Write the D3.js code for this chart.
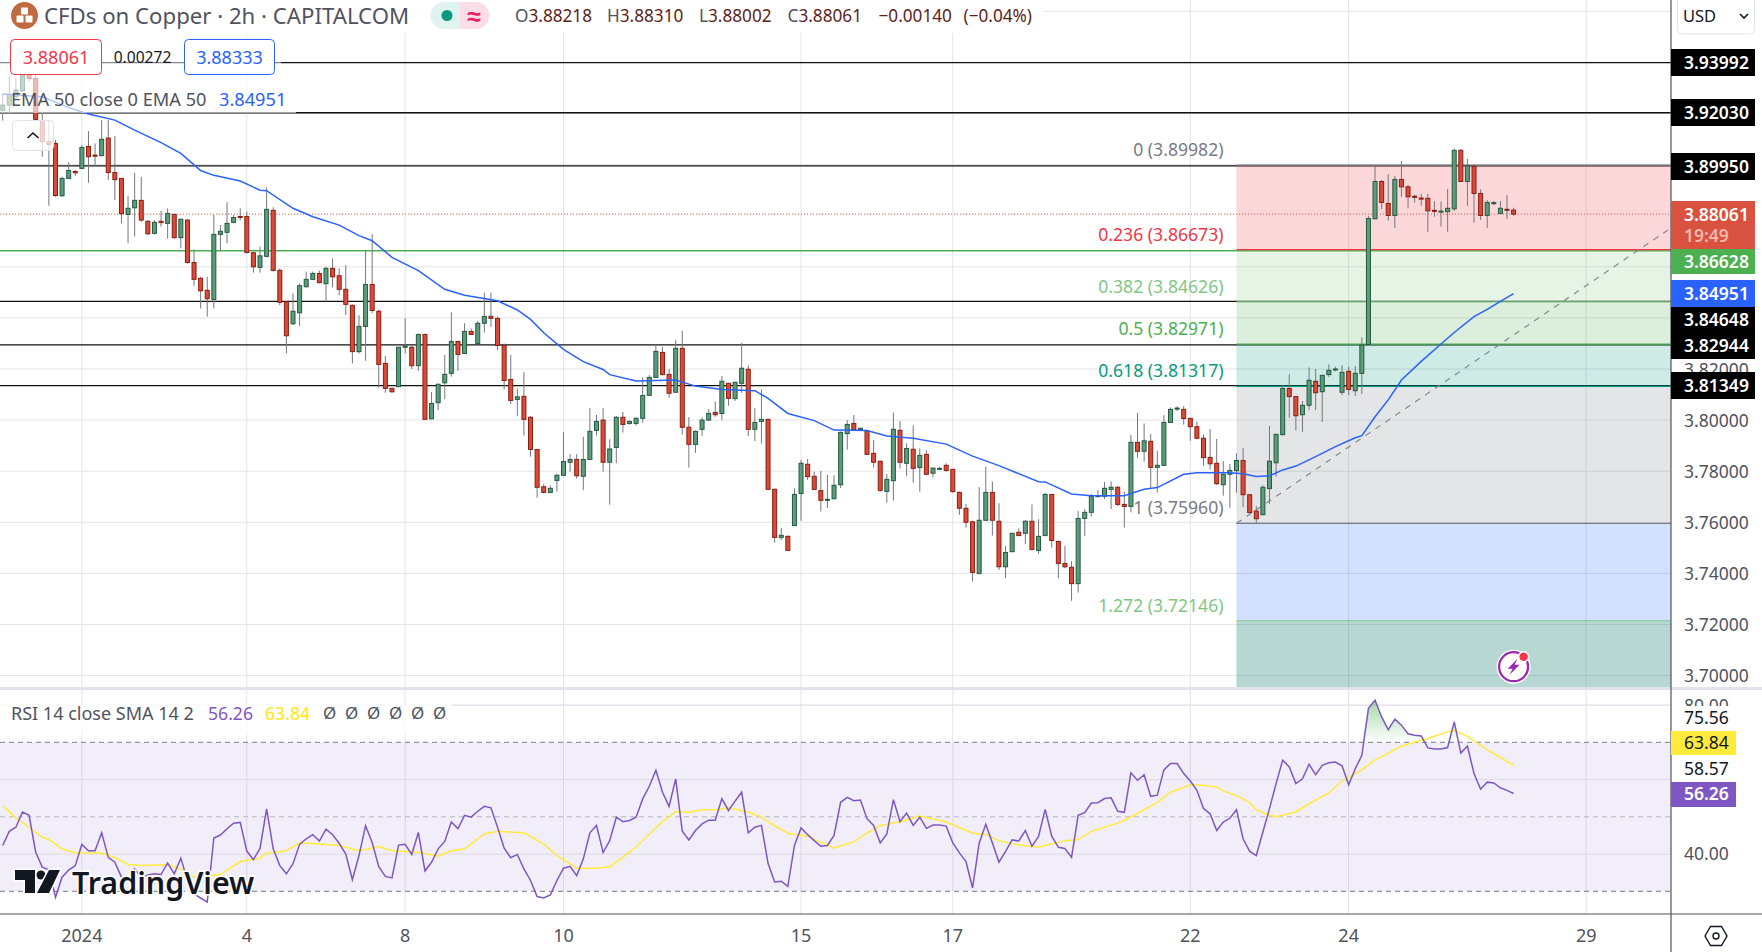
<!DOCTYPE html>
<html lang="en">
<head>
<meta charset="UTF-8">
<title>CFDs on Copper</title>
<script src="https://d3js.org/d3.v7.min.js"></script>
<style>
    html, body { margin: 0; padding: 0; background: #fff; overflow: hidden; }
    svg { display: block; }
    text { font-family: "Noto Sans", sans-serif; }
</style>
</head>
<body>
<svg id="chart" width="1762" height="952"></svg>
<script>
// candles, one per 2h bar
const opens = [
3.9213,3.9233,3.9266,3.9289,3.9364,3.9337,3.9172,3.9090,3.9083,3.8878,
3.8946,3.8973,3.8985,3.9071,3.9037,3.9035,3.9104,3.8969,3.8946,3.8805,
3.8831,3.8860,3.8778,3.8731,3.8778,3.8770,3.8805,3.8714,3.8783,3.8617,
3.8555,3.8508,3.8472,3.8727,3.8735,3.8774,3.8797,3.8797,3.8655,3.8598,
3.8641,3.8821,3.8586,3.8463,3.8377,3.8420,3.8522,3.8551,3.8574,3.8534,
3.8594,3.8565,3.8512,3.8449,3.8268,3.8367,3.8531,3.8426,3.8222,3.8124,
3.8131,3.8285,3.8285,3.8213,3.8335,3.8005,3.8068,3.8146,3.8183,3.8308,
3.8261,3.8347,3.8300,3.8379,3.8406,3.8398,3.8292,3.8159,3.8081,3.8093,
3.8011,3.7885,3.7739,3.7717,3.7764,3.7784,3.7835,3.7846,3.7780,3.7846,
3.7960,3.8000,3.7835,3.7893,3.8011,3.7987,3.7987,3.8007,3.8097,3.8167,
3.8265,3.8179,3.8109,3.8281,3.7972,3.7905,3.7964,3.8000,3.8030,3.8026,
3.8144,3.8084,3.8144,3.8199,3.7964,3.7995,3.8003,3.7729,3.7541,3.7545,
3.7587,3.7713,3.7827,3.7780,3.7724,3.7686,3.7692,3.7747,3.7947,3.7987,
3.7963,3.7957,3.7870,3.7839,3.7721,3.7763,3.7960,3.7831,3.7886,3.7814,
3.7866,3.7792,3.7810,3.7823,3.7807,3.7717,3.7655,3.7602,3.7400,3.7608,
3.7717,3.7604,3.7426,3.7485,3.7561,3.7557,3.7604,3.7490,3.7548,3.7709,
3.7525,3.7439,3.7424,3.7360,3.7615,3.7639,3.7702,3.7702,3.7729,3.7737,
3.7670,3.7662,3.7913,3.7878,3.7917,3.7815,3.7823,3.7991,3.8045,3.8042,
3.8007,3.7974,3.7929,3.7854,3.7831,3.7747,3.7788,3.7802,3.7842,3.7708,
3.7644,3.7630,3.7732,3.7833,3.7943,3.8124,3.8092,3.8021,3.8058,3.8152,
3.8111,3.8178,3.8199,3.8109,3.8191,3.8115,3.8183,3.8296,3.8788,3.8934,
3.8848,3.8801,3.8942,3.8913,3.8876,3.8869,3.8868,3.8821,3.8816,3.8816,
3.8827,3.9056,3.8934,3.8993,3.8887,3.8801,3.8848,3.8809,3.8825,3.88218];

const highs = [
3.9279,3.9347,3.9337,3.9390,3.9390,3.9357,3.9207,3.9174,3.9096,3.8953,
3.9009,3.8979,3.9077,3.9131,3.9083,3.9174,3.9174,3.9112,3.8946,3.8877,
3.8967,3.8951,3.8783,3.8783,3.8819,3.8829,3.8809,3.8789,3.8786,3.8668,
3.8561,3.8561,3.8803,3.8763,3.8853,3.8803,3.8829,3.8816,3.8659,3.8679,
3.8911,3.8833,3.8594,3.8463,3.8496,3.8535,3.8581,3.8581,3.8585,3.8600,
3.8633,3.8594,3.8606,3.8453,3.8411,3.8666,3.8727,3.8433,3.8251,3.8127,
3.8287,3.8398,3.8294,3.8339,3.8339,3.8110,3.8144,3.8255,3.8422,3.8308,
3.8379,3.8359,3.8388,3.8499,3.8499,3.8405,3.8300,3.8255,3.8124,3.8188,
3.8016,3.7885,3.7750,3.7744,3.7791,3.7953,3.7867,3.7867,3.7935,3.8047,
3.8020,3.8047,3.7925,3.8016,3.8032,3.7998,3.8011,3.8167,3.8176,3.8290,
3.8287,3.8199,3.8313,3.8349,3.8012,3.7959,3.8011,3.8043,3.8073,3.8173,
3.8146,3.8150,3.8302,3.8214,3.8047,3.8120,3.8006,3.7733,3.7578,3.7549,
3.7733,3.7844,3.7848,3.7798,3.7801,3.7785,3.7784,3.7955,3.8000,3.8020,
3.7968,3.7961,3.7922,3.7841,3.7789,3.8030,3.7996,3.7909,3.7979,3.7889,
3.7883,3.7815,3.7818,3.7831,3.7810,3.7721,3.7672,3.7606,3.7738,3.7818,
3.7760,3.7675,3.7507,3.7559,3.7576,3.7609,3.7670,3.7612,3.7716,3.7709,
3.7528,3.7507,3.7448,3.7645,3.7651,3.7711,3.7726,3.7758,3.7760,3.7742,
3.7720,3.7942,3.8028,3.7987,3.7946,3.7880,3.8019,3.8050,3.8054,3.8055,
3.8009,3.7994,3.7944,3.7965,3.7926,3.7840,3.7828,3.7870,3.7891,3.7709,
3.7664,3.7745,3.7977,3.7948,3.8137,3.8180,3.8094,3.8075,3.8206,3.8200,
3.8178,3.8218,3.8209,3.8214,3.8209,3.8212,3.8323,3.8799,3.8994,3.8940,
3.8963,3.8955,3.9014,3.8920,3.8882,3.8885,3.8886,3.8857,3.8855,3.8904,
3.9063,3.9060,3.9022,3.9002,3.8904,3.8861,3.8857,3.8857,3.8881,3.88310];

const lows = [
3.9172,3.9200,3.9253,3.9285,3.9324,3.9174,3.9031,3.8839,3.8874,3.8874,
3.8943,3.8956,3.8983,3.8929,3.8992,3.9033,3.8940,3.8861,3.8770,3.8692,
3.8718,3.8776,3.8724,3.8727,3.8757,3.8710,3.8710,3.8672,3.8613,3.8526,
3.8437,3.8405,3.8437,3.8663,3.8692,3.8770,3.8783,3.8652,3.8577,3.8577,
3.8637,3.8581,3.8450,3.8261,3.8372,3.8369,3.8519,3.8548,3.8535,3.8463,
3.8519,3.8489,3.8411,3.8222,3.8261,3.8232,3.8418,3.8127,3.8107,3.8107,
3.8128,3.8261,3.8200,3.8193,3.8003,3.8003,3.8039,3.8082,3.8170,3.8193,
3.8259,3.8333,3.8298,3.8342,3.8365,3.8274,3.8120,3.8063,3.8017,3.7939,
3.7857,3.7696,3.7713,3.7714,3.7720,3.7781,3.7798,3.7771,3.7726,3.7844,
3.7939,3.7798,3.7669,3.7831,3.7951,3.7982,3.7978,3.7990,3.8094,3.8165,
3.8175,3.8088,3.8106,3.7943,3.7814,3.7872,3.7938,3.7998,3.8013,3.8000,
3.8056,3.8075,3.8107,3.7938,3.7918,3.7908,3.7726,3.7520,3.7531,3.7489,
3.7585,3.7606,3.7766,3.7726,3.7642,3.7656,3.7691,3.7734,3.7884,3.7959,
3.7960,3.7863,3.7814,3.7719,3.7677,3.7685,3.7810,3.7780,3.7755,3.7720,
3.7785,3.7775,3.7805,3.7798,3.7716,3.7629,3.7579,3.7368,3.7396,3.7605,
3.7548,3.7413,3.7382,3.7484,3.7546,3.7515,3.7489,3.7476,3.7546,3.7501,
3.7381,3.7420,3.7293,3.7325,3.7546,3.7622,3.7700,3.7691,3.7652,3.7664,
3.7579,3.7639,3.7853,3.7837,3.7733,3.7716,3.7820,3.7989,3.8036,3.7982,
3.7919,3.7925,3.7822,3.7806,3.7746,3.7704,3.7657,3.7716,3.7659,3.7635,
3.7596,3.7627,3.7672,3.7779,3.7940,3.8009,3.7959,3.7953,3.8039,3.8039,
3.7993,3.8169,3.8191,3.8098,3.8098,3.8094,3.8102,3.8294,3.8786,3.8826,
3.8780,3.8752,3.8874,3.8829,3.8851,3.8839,3.8737,3.8796,3.8757,3.8737,
3.8819,3.8932,3.8839,3.8773,3.8783,3.8752,3.8842,3.8806,3.8787,3.88002];

const closes = [
3.9233,3.9275,3.9292,3.9350,3.9337,3.9177,3.9090,3.9079,3.8879,3.8946,
3.8977,3.8968,3.9067,3.9031,3.9035,3.9099,3.8969,3.8941,3.8808,3.8829,
3.8860,3.8783,3.8729,3.8774,3.8773,3.8809,3.8714,3.8786,3.8617,3.8551,
3.8506,3.8475,3.8727,3.8739,3.8770,3.8793,3.8795,3.8656,3.8600,3.8643,
3.8825,3.8586,3.8461,3.8330,3.8426,3.8526,3.8551,3.8574,3.8538,3.8594,
3.8561,3.8512,3.8453,3.8268,3.8367,3.8531,3.8429,3.8218,3.8124,3.8111,
3.8285,3.8290,3.8213,3.8335,3.8003,3.8065,3.8140,3.8179,3.8308,3.8257,
3.8347,3.8335,3.8379,3.8406,3.8398,3.8292,3.8155,3.8077,3.8091,3.8003,
3.7885,3.7737,3.7717,3.7733,3.7784,3.7838,3.7846,3.7782,3.7846,3.7956,
3.7995,3.7835,3.7887,3.8011,3.7983,3.7995,3.8007,3.8096,3.8167,3.8269,
3.8178,3.8105,3.8281,3.7972,3.7905,3.7956,3.8000,3.8026,3.8021,3.8152,
3.8085,3.8148,3.8203,3.7964,3.7991,3.8003,3.7729,3.7541,3.7549,3.7490,
3.7709,3.7831,3.7779,3.7729,3.7686,3.7690,3.7745,3.7952,3.7983,3.7963,
3.7968,3.7866,3.7835,3.7725,3.7768,3.7964,3.7835,3.7889,3.7811,3.7862,
3.7788,3.7812,3.7811,3.7803,3.7720,3.7655,3.7600,3.7404,3.7608,3.7717,
3.7608,3.7426,3.7482,3.7557,3.7548,3.7604,3.7494,3.7545,3.7709,3.7529,
3.7439,3.7426,3.7360,3.7615,3.7639,3.7702,3.7704,3.7733,3.7737,3.7670,
3.7662,3.7913,3.7878,3.7919,3.7815,3.7823,3.7991,3.8042,3.8047,3.8006,
3.7974,3.7929,3.7853,3.7829,3.7751,3.7788,3.7803,3.7842,3.7708,3.7638,
3.7614,3.7737,3.7839,3.7944,3.8124,3.8092,3.8017,3.8058,3.8156,3.8107,
3.8175,3.8195,3.8200,3.8187,3.8120,3.8183,3.8294,3.8789,3.8934,3.8852,
3.8801,3.8942,3.8913,3.8874,3.8872,3.8866,3.8819,3.8817,3.8818,3.8829,
3.9056,3.8934,3.8996,3.8887,3.8801,3.8852,3.8851,3.8829,3.8822,3.88061];

// EMA 50, read at the bends of the line
const emaBars = [0,6,10,13,17,20,24,27,30,32,36,39,40,44,47,51,54,56,59,63,67,70,75,78,80,82,85,88,91,92,96,102,105,109,114,116,119,123,126,131,134,138,143,147,151,157,158,162,165,170,173,175,179,181,186,188,190,192,194,196,199,202,205,206,208,210,212,215,218,220,223,225,227,229];
const emaValues = [3.9276,3.9266,3.9223,3.9198,3.9174,3.9135,3.9086,3.9044,3.8977,3.8958,3.8936,3.8900,3.8898,3.8829,3.8796,3.8763,3.8722,3.8702,3.8637,3.8585,3.8512,3.8489,3.8467,3.8431,3.8394,3.8342,3.8277,3.8229,3.8198,3.8178,3.8153,3.8157,3.8133,3.8120,3.8115,3.8085,3.8026,3.7998,3.7961,3.7959,3.7938,3.7929,3.7906,3.7859,3.7822,3.7759,3.7758,3.7711,3.7704,3.7704,3.7729,3.7736,3.7788,3.7794,3.7794,3.7790,3.7779,3.7782,3.7805,3.7820,3.7857,3.7896,3.7931,3.7939,3.8013,3.8079,3.8157,3.8230,3.8298,3.8343,3.8405,3.8433,3.8465,3.84951];

const rsiValues = [
42.3,46.1,47.2,51.3,50.4,40.5,36.5,35.8,28.4,33.8,
35.7,36.9,42.6,40.9,40.9,45.7,39.1,37.8,33.8,32.9,
36.0,33.8,34.4,34.7,34.5,37.6,34.7,38.9,32.9,29.3,
28.2,27.1,44.3,45.1,46.8,48.3,48.5,40.8,38.5,41.5,
52.1,41.4,36.9,34.7,37.4,42.6,44.1,45.2,43.5,46.7,
45.2,42.9,40.0,33.1,39.6,47.6,43.1,36.6,34.0,33.6,
42.4,42.6,39.9,45.8,35.5,37.8,41.4,43.4,48.6,46.8,
50.4,49.9,51.5,52.8,52.4,47.2,41.6,39.0,39.9,36.0,
32.9,28.6,28.2,29.0,32.9,36.2,36.7,34.2,38.7,45.7,
47.7,40.4,43.6,49.9,48.7,49.0,49.9,54.8,58.2,62.5,
56.6,52.8,60.2,46.1,43.8,46.3,48.1,49.1,49.1,54.9,
51.7,54.2,56.6,45.7,47.2,47.7,37.5,32.5,32.7,31.3,
42.3,47.0,45.2,43.6,42.1,42.3,45.0,53.9,55.2,54.3,
54.5,49.5,47.7,43.0,45.4,54.6,48.7,51.0,47.7,49.9,
46.9,47.8,47.8,47.5,43.0,40.3,38.0,30.9,42.9,48.0,
43.0,37.8,40.7,43.8,43.5,46.3,42.1,44.7,52.0,44.8,
41.8,41.5,39.1,50.4,51.1,53.7,53.8,54.9,55.1,51.5,
51.2,61.8,59.8,61.3,55.5,55.8,62.6,64.3,64.3,61.6,
59.6,57.1,52.2,50.8,46.3,48.6,49.6,51.9,44.1,40.7,
39.6,45.9,52.2,58.9,65.2,63.4,58.9,60.2,64.1,61.3,
63.8,64.5,64.7,63.7,58.6,62.9,66.5,79.1,81.3,76.8,
73.4,76.2,74.6,72.3,71.9,71.7,68.5,68.2,68.2,68.6,
75.5,67.1,69.0,61.6,57.4,59.3,59.1,57.8,57.1,56.26];

// RSI-based SMA, read at the bends of the line
const smaBars = [0,2,4,6,7,9,11,15,17,19,21,25,27,29,33,36,39,40,43,45,48,51,54,57,59,63,66,68,70,73,75,79,82,84,87,90,92,94,96,98,100,102,104,106,108,110,113,115,117,119,122,126,129,131,133,135,136,139,143,147,149,151,153,157,161,163,165,169,170,175,177,180,182,184,185,187,189,190,192,193,196,198,201,203,206,208,209,212,216,219,220,222,225,229];
const smaValues = [53.0,49.7,47.2,44.5,43.9,41.4,40.3,40.3,39.0,37.2,36.9,37.1,36.0,33.8,34.5,38.0,38.9,40.2,40.9,43.0,42.7,42.3,40.9,42.0,40.9,40.5,39.4,40.9,41.4,45.4,46.1,45.7,42.7,39.6,36.2,36.2,36.6,39.1,41.9,45.4,48.7,51.4,51.2,51.9,51.9,52.4,51.3,49.9,47.6,45.6,44.8,41.6,43.3,45.6,47.6,48.4,48.6,50.2,48.6,45.6,45.2,43.6,42.7,41.8,43.6,43.9,46.1,48.3,49.0,53.8,56.6,58.6,58.5,58.0,56.9,55.7,53.8,51.9,50.4,50.0,51.3,53.5,56.4,59.6,62.6,65.3,66.1,69.0,71.0,72.8,73.2,71.6,68.0,63.84];

// fib retracement
const fibLevels = ["0", "0.236", "0.382", "0.5", "0.618", "1", "1.272"];
const fibPrices = [3.89982, 3.86673, 3.84626, 3.82971, 3.81317, 3.75960, 3.72146];
const fibColors = ["#787b86", "#f23645", "#81c784", "#4caf50", "#089981", "#787b86", "#81c784"];
const fibFills = ["#f23645", "#81c784", "#4caf50", "#089981", "#787b86", "#2962ff", "#0f7a69"];
const fibFillOpacity = [0.2, 0.2, 0.2, 0.2, 0.2, 0.2, 0.3];
const fibStartBar = 187;
const trendBars = [187, 252.4];
const trendPrices = [3.7596, 3.8744];

// drawn horizontal levels
const blackLevels = [3.93992, 3.92030, 3.89950, 3.84648, 3.82944, 3.81349];
const greenLevel = 3.86628;
const lastPrice = 3.88061;

const priceGrid = [3.70, 3.72, 3.74, 3.76, 3.78, 3.80, 3.82, 3.84, 3.86, 3.90, 3.92, 3.94, 3.96];
const priceTicks = [3.70, 3.72, 3.74, 3.76, 3.78, 3.80, 3.82];
const rsiGrid = [80, 60, 40];
const dateBars = [12, 37, 61, 85, 121, 144, 180, 204, 240];
const dateLabels = ["2024", "4", "8", "10", "15", "17", "22", "24", "29"];

const plotRight = 1671, paneBottom = 687, rsiTop = 690, rsiBottom = 914;

const svg = d3.select("#chart");
const x = d3.scaleLinear().domain([0, 229]).range([2.7, 1513.6]);
const y = d3.scaleLinear().domain([3.70, 3.96]).range([675.6, 11.3]);
const yRsi = d3.scaleLinear().domain([30, 70]).range([891.3, 742.3]);

const defs = svg.append("defs");
defs.append("clipPath").attr("id", "mainClip").append("rect")
    .attr("width", plotRight).attr("height", paneBottom);
defs.append("clipPath").attr("id", "rsiClip").append("rect")
    .attr("y", rsiTop).attr("width", plotRight).attr("height", rsiBottom - rsiTop);
const grad = defs.append("linearGradient").attr("id", "obGrad")
    .attr("x1", 0).attr("x2", 0).attr("y1", 0).attr("y2", 1);
grad.append("stop").attr("offset", "0%").attr("stop-color", "#4caf50").attr("stop-opacity", 0.5);
grad.append("stop").attr("offset", "100%").attr("stop-color", "#4caf50").attr("stop-opacity", 0);

function label(parent, px, py, str, size, color, anchor) {
    return parent.append("text")
        .attr("x", px).attr("y", py)
        .attr("font-size", size)
        .attr("fill", color)
        .attr("text-anchor", anchor || "start")
        .attr("dominant-baseline", "central")
        .text(str);
}

// vertical grid through both panes
svg.append("g").selectAll("line").data(dateBars).enter().append("line")
    .attr("x1", d => x(d)).attr("x2", d => x(d))
    .attr("y1", 0).attr("y2", rsiBottom)
    .attr("stroke", "#e4e4e7").attr("stroke-width", 1);

const main = svg.append("g").attr("clip-path", "url(#mainClip)");

main.append("g").selectAll("line").data(priceGrid).enter().append("line")
    .attr("x1", 0).attr("x2", plotRight)
    .attr("y1", d => y(d)).attr("y2", d => y(d))
    .attr("stroke", "#e4e4e7").attr("stroke-width", 1);

// black / green levels under the fib fills
main.append("g").selectAll("line").data(blackLevels).enter().append("line")
    .attr("x1", 0).attr("x2", plotRight)
    .attr("y1", d => y(d)).attr("y2", d => y(d))
    .attr("stroke", "#111").attr("stroke-width", 1.4);
main.append("line")
    .attr("x1", 0).attr("x2", plotRight)
    .attr("y1", y(greenLevel)).attr("y2", y(greenLevel))
    .attr("stroke", "#4caf50").attr("stroke-width", 1.4);

// fib bands, the last one runs off the pane
main.append("g").selectAll("rect").data(fibPrices).enter().append("rect")
    .attr("x", x(fibStartBar))
    .attr("width", plotRight - x(fibStartBar))
    .attr("y", d => y(d))
    .attr("height", (d, i) => (i < fibPrices.length - 1 ? y(fibPrices[i + 1]) : paneBottom) - y(d))
    .attr("fill", (d, i) => fibFills[i])
    .attr("fill-opacity", (d, i) => fibFillOpacity[i]);
main.append("g").selectAll("line").data(fibPrices).enter().append("line")
    .attr("x1", x(fibStartBar)).attr("x2", plotRight)
    .attr("y1", d => y(d)).attr("y2", d => y(d))
    .attr("stroke", (d, i) => fibColors[i]).attr("stroke-width", 1.2);
main.append("g").selectAll("text").data(fibPrices).enter().append("text")
    .attr("x", x(fibStartBar) - 13)
    .attr("y", d => y(d) - 16)
    .attr("text-anchor", "end")
    .attr("dominant-baseline", "central")
    .attr("font-size", 17.6)
    .attr("fill", (d, i) => fibColors[i])
    .text((d, i) => `${fibLevels[i]} (${d.toFixed(5)})`);

main.append("line")
    .attr("x1", x(trendBars[0])).attr("y1", y(trendPrices[0]))
    .attr("x2", x(trendBars[1])).attr("y2", y(trendPrices[1]))
    .attr("stroke", "#85888f").attr("stroke-width", 1.2).attr("stroke-dasharray", "6,6");

// last price line
main.append("line")
    .attr("x1", 0).attr("x2", plotRight)
    .attr("y1", y(lastPrice)).attr("y2", y(lastPrice))
    .attr("stroke", "#e8503a").attr("stroke-width", 1).attr("stroke-dasharray", "1,2");

// candles
const bars = d3.range(opens.length);
main.append("g").selectAll("line").data(bars).enter().append("line")
    .attr("x1", i => x(i)).attr("x2", i => x(i))
    .attr("y1", i => y(highs[i])).attr("y2", i => y(lows[i]))
    .attr("stroke", "#74777f").attr("stroke-width", 1);
main.append("g").selectAll("rect").data(bars).enter().append("rect")
    .attr("x", i => x(i) - 2)
    .attr("width", 4)
    .attr("y", i => y(Math.max(opens[i], closes[i])))
    .attr("height", i => Math.max(1, Math.abs(y(opens[i]) - y(closes[i]))))
    .attr("fill", i => closes[i] >= opens[i] ? "#5c9c7c" : "#d94a38")
    .attr("stroke", i => closes[i] >= opens[i] ? "#245a40" : "#8b1e12")
    .attr("stroke-width", 1);

const emaLine = d3.line().x(d => x(d)).y((d, i) => y(emaValues[i]));
main.append("path").attr("d", emaLine(emaBars))
    .attr("fill", "none").attr("stroke", "#2962ff").attr("stroke-width", 1.5);

// lightning badge
const bolt = main.append("g").attr("transform", `translate(${x(229)},666.7)`);
bolt.append("circle").attr("r", 17).attr("fill", "#fff");
bolt.append("circle").attr("r", 14.5).attr("fill", "#fff").attr("stroke", "#9c27b0").attr("stroke-width", 2.2);
bolt.append("path").attr("d", "M4,-8 L-6,2 L-1,2 L-4,8 L6,-2 L1,-2 Z").attr("fill", "#9c27b0");
bolt.append("circle").attr("cx", 10).attr("cy", -10).attr("r", 5).attr("fill", "#f23645").attr("stroke", "#fff").attr("stroke-width", 1.5);

// ---- RSI pane ----
const rsi = svg.append("g").attr("clip-path", "url(#rsiClip)");
rsi.append("rect")
    .attr("x", 0).attr("width", plotRight)
    .attr("y", yRsi(70)).attr("height", yRsi(30) - yRsi(70))
    .attr("fill", "#7e57c2").attr("fill-opacity", 0.1);
rsi.append("g").selectAll("line").data(rsiGrid).enter().append("line")
    .attr("x1", 0).attr("x2", plotRight)
    .attr("y1", d => yRsi(d)).attr("y2", d => yRsi(d))
    .attr("stroke", "#e0dde8").attr("stroke-width", 1.2);
rsi.append("g").selectAll("line.band").data([70, 50, 30]).enter().append("line")
    .attr("x1", 0).attr("x2", plotRight)
    .attr("y1", d => yRsi(d)).attr("y2", d => yRsi(d))
    .attr("stroke", d => d === 50 ? "#b4b5bd" : "#787b86")
    .attr("stroke-width", 1).attr("stroke-dasharray", "5,4");

const obArea = d3.area()
    .x((d, i) => x(i))
    .y0(yRsi(70))
    .y1(d => yRsi(Math.max(d, 70)));
rsi.append("path").attr("d", obArea(rsiValues)).attr("fill", "url(#obGrad)");

const smaLine = d3.line().x(d => x(d)).y((d, i) => yRsi(smaValues[i]));
rsi.append("path").attr("d", smaLine(smaBars))
    .attr("fill", "none").attr("stroke", "#ffeb3b").attr("stroke-width", 1.5);
const rsiLine = d3.line().x((d, i) => x(i)).y(d => yRsi(d));
rsi.append("path").attr("d", rsiLine(rsiValues))
    .attr("fill", "none").attr("stroke", "#7e57c2").attr("stroke-width", 1.5);

// ---- frame ----
svg.append("rect").attr("x", 0).attr("y", 687).attr("width", 1762).attr("height", 3).attr("fill", "#e0e3eb");
svg.append("line").attr("x1", 0).attr("x2", 1762).attr("y1", rsiBottom).attr("y2", rsiBottom)
    .attr("stroke", "#50535e").attr("stroke-width", 1.2);
svg.append("line").attr("x1", plotRight).attr("x2", plotRight).attr("y1", 0).attr("y2", 952)
    .attr("stroke", "#50535e").attr("stroke-width", 1.2);

// date axis
svg.append("g").selectAll("text").data(dateBars).enter().append("text")
    .attr("x", d => x(d))
    .attr("y", 935)
    .attr("text-anchor", "middle")
    .attr("dominant-baseline", "central")
    .attr("font-size", 18)
    .attr("fill", "#50535e")
    .text((d, i) => dateLabels[i]);

// ---- legends over the plot ----
svg.append("rect").attr("x", 0).attr("y", 0).attr("width", 1044).attr("height", 33).attr("fill", "#fff");
const logo = svg.append("g").attr("transform", "translate(24.5,15.5)");
logo.append("circle").attr("r", 13.5).attr("fill", "#bf6a40");
logo.append("rect").attr("x", -3.5).attr("y", -8).attr("width", 7).attr("height", 7).attr("rx", 1).attr("fill", "#fff");
logo.append("rect").attr("x", -8).attr("y", 0).attr("width", 7).attr("height", 7).attr("rx", 1).attr("fill", "#fff");
logo.append("rect").attr("x", 1).attr("y", 0).attr("width", 7).attr("height", 7).attr("rx", 1).attr("fill", "#fff");
label(svg, 44, 15, "CFDs on Copper · 2h · CAPITALCOM", 22.2, "#50535e");

svg.append("path").attr("d", "M444,2 H460 V29 H444 A13.5,13.5 0 0 1 444,2 Z").attr("fill", "#dff3f0");
svg.append("path").attr("d", "M460,2 H476 A13.5,13.5 0 0 1 476,29 H460 Z").attr("fill", "#fbdde6");
svg.append("circle").attr("cx", 447).attr("cy", 15.5).attr("r", 5.5).attr("fill", "#089981");
label(svg, 474, 14.5, "≈", 25, "#e91e63", "middle").attr("font-weight", 700);

const ohlcLabels = ["O", "H", "L", "C"];
const ohlcValues = ["3.88218", "3.88310", "3.88002", "3.88061"];
const ohlcLeft = [515, 607, 699, 787.5];
ohlcLabels.forEach((k, i) => {
    const t = label(svg, ohlcLeft[i], 15, "", 17.2, "#50535e");
    t.append("tspan").text(k);
    t.append("tspan").attr("fill", "#5e1f1a").text(ohlcValues[i]);
});
label(svg, 878.5, 15, "−0.00140", 17.2, "#5e1f1a");
label(svg, 963.5, 15, "(−0.04%)", 17.2, "#5e1f1a");

// buy / sell row
svg.append("rect").attr("x", 0).attr("y", 35).attr("width", 281).attr("height", 40).attr("fill", "#fff").attr("fill-opacity", 0.5);
svg.append("rect").attr("x", 10.5).attr("y", 39.5).attr("width", 91).attr("height", 35).attr("rx", 4)
    .attr("fill", "#fff").attr("stroke", "#f23645");
label(svg, 56, 57, "3.88061", 18, "#f23645", "middle");
label(svg, 142.5, 57, "0.00272", 15.6, "#131722", "middle");
svg.append("rect").attr("x", 184.5).attr("y", 39.5).attr("width", 90).attr("height", 35).attr("rx", 4)
    .attr("fill", "#fff").attr("stroke", "#2962ff");
label(svg, 229.5, 57, "3.88333", 18, "#2962ff", "middle");

// indicator legend
svg.append("rect").attr("x", 0).attr("y", 75).attr("width", 296).attr("height", 38).attr("fill", "#fff").attr("fill-opacity", 0.62);
label(svg, 11, 99, "EMA 50 close 0 EMA 50", 18.2, "#50535e");
label(svg, 219, 99, "3.84951", 18.2, "#2962ff");
svg.append("rect").attr("x", 12.5).attr("y", 120.5).attr("width", 41).attr("height", 30).attr("rx", 4)
    .attr("fill", "#fff").attr("fill-opacity", 0.75).attr("stroke", "#e0e3eb");
svg.append("path").attr("d", "M27.5,138 L33,133 L38.5,138").attr("fill", "none").attr("stroke", "#131722").attr("stroke-width", 1.6);

// RSI legend
svg.append("rect").attr("x", 0).attr("y", 704).attr("width", 452).attr("height", 30).attr("fill", "#fff").attr("fill-opacity", 0.75);
label(svg, 11, 712.5, "RSI 14 close SMA 14 2", 18, "#50535e");
label(svg, 208, 712.5, "56.26", 17.6, "#7e57c2");
label(svg, 265, 712.5, "63.84", 17.6, "#fde72f").attr("font-weight", 500);
[323, 345, 367, 389, 411, 433].forEach(px => label(svg, px, 712.5, "Ø", 17, "#50535e"));

// watermark
const tvLogo = svg.append("g").attr("stroke", "#fff").attr("stroke-width", 3).attr("paint-order", "stroke").attr("fill", "#131722");
tvLogo.append("path").attr("d", "M15,870 H35 V893 H25 V880 H15 Z");
tvLogo.append("circle").attr("cx", 41).attr("cy", 875).attr("r", 4.5);
tvLogo.append("path").attr("d", "M49,870 H60 L49,893 H37 Z");
label(svg, 72, 882, "TradingView", 30.4, "#131722")
    .attr("font-weight", 600)
    .attr("stroke", "#fff").attr("stroke-width", 3).attr("paint-order", "stroke");

// ---- price axis ----
svg.append("g").selectAll("text").data(priceTicks).enter().append("text")
    .attr("x", 1684).attr("y", d => y(d) - 0.5)
    .attr("dominant-baseline", "central")
    .attr("font-size", 17.5).attr("fill", "#50535e")
    .text(d => d.toFixed(5));

svg.append("rect").attr("x", 1677.5).attr("y", -6).attr("width", 77).attr("height", 40).attr("rx", 5)
    .attr("fill", "#fff").attr("stroke", "#e0e3eb");
label(svg, 1683, 15, "USD", 16.5, "#131722");
svg.append("path").attr("d", "M1740,14 L1744,18 L1748,14").attr("fill", "none").attr("stroke", "#131722").attr("stroke-width", 1.6);

// boxed price labels: [value, top, height, fill, text colour]
const priceBoxes = [
    ["3.93992", 49, 27, "#000", "#fff"],
    ["3.92030", 99, 27, "#000", "#fff"],
    ["3.89950", 153, 27, "#000", "#fff"],
    ["3.86628", 249, 25, "#4caf50", "#fff"],
    ["3.84951", 280, 27, "#2962ff", "#fff"],
    ["3.84648", 307, 26, "#000", "#fff"],
    ["3.82944", 333, 26, "#000", "#fff"],
    ["3.81349", 372, 27, "#000", "#fff"]
];
svg.append("rect").attr("x", plotRight).attr("y", 201).attr("width", 84).attr("height", 48).attr("fill", "#d9523f");
label(svg, 1684, 214, "3.88061", 17.5, "#fff").attr("font-weight", 600);
label(svg, 1684, 234.5, "19:49", 17.5, "#f4b7ad").attr("font-weight", 600);
priceBoxes.forEach(b => {
    svg.append("rect").attr("x", plotRight).attr("y", b[1]).attr("width", 84).attr("height", b[2]).attr("fill", b[3]);
    label(svg, 1684, b[1] + b[2] / 2 - 0.8, b[0], 17.5, b[4]).attr("font-weight", 600);
});

// ---- RSI axis ----
label(svg, 1684, 705, "80.00", 17.5, "#50535e");
svg.append("rect").attr("x", plotRight + 1).attr("y", 706).attr("width", 65).attr("height", 25).attr("fill", "#fff");
label(svg, 1684, 716.5, "75.56", 17.5, "#131722");
svg.append("rect").attr("x", plotRight).attr("y", 731).attr("width", 65).attr("height", 24).attr("fill", "#ffeb3b");
label(svg, 1684, 742, "63.84", 17.5, "#131722");
label(svg, 1684, 767.5, "58.57", 17.5, "#131722");
svg.append("rect").attr("x", plotRight).attr("y", 782).attr("width", 65).attr("height", 25).attr("fill", "#7e57c2");
label(svg, 1684, 793, "56.26", 17.5, "#fff").attr("font-weight", 600);
label(svg, 1684, yRsi(40) - 1, "40.00", 17.5, "#50535e");

// settings hexagon
svg.append("path").attr("d", "M1705,936 L1710.5,926.5 H1721.5 L1727,936 L1721.5,945.5 H1710.5 Z")
    .attr("fill", "none").attr("stroke", "#131722").attr("stroke-width", 1.4);
svg.append("circle").attr("cx", 1716).attr("cy", 936).attr("r", 3).attr("fill", "none").attr("stroke", "#131722").attr("stroke-width", 1.4);
</script>
</body>
</html>
